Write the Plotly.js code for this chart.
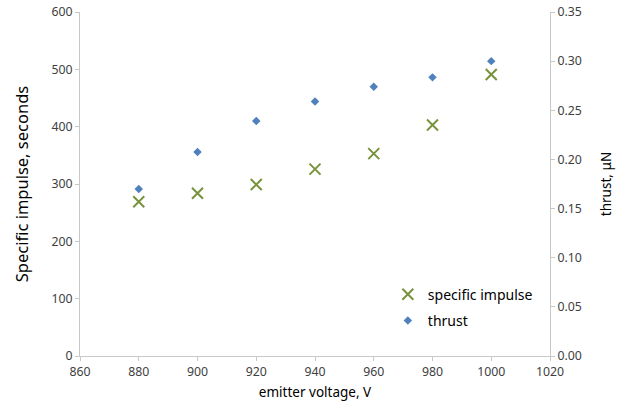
<!DOCTYPE html>
<html><head><meta charset="utf-8">
<script src="https://cdn.plot.ly/plotly-3.0.1.min.js"></script>
<style>body{margin:0;background:#fff}#c{width:619px;height:404px}</style>
</head><body><div id="c"></div>
<script>
const voltage = [880, 900, 920, 940, 960, 980, 1000];
const specificImpulse = [269, 284, 299, 326, 353, 403, 491];
const thrust = [0.170, 0.2075, 0.239, 0.259, 0.274, 0.2835, 0.300];
const xTicks = [860, 880, 900, 920, 940, 960, 980, 1000, 1020];

const fam = 'Noto Sans, sans-serif';
const font = {family: fam, size: 12.3, color: '#404040'};
const axisBase = {showgrid: false, zeroline: false, showline: true, linecolor: '#c8c8c8', linewidth: 1,
  ticks: 'outside', ticklen: 4, tickcolor: '#c8c8c8', tickfont: font};

const traces = [
  {x: voltage, y: specificImpulse, name: 'specific impulse', type: 'scatter', mode: 'markers', legendgroup: 'a',
   marker: {symbol: 'x-thin-open', size: 11, color: '#77933C', line: {color: '#77933C', width: 2}}},
  {x: voltage, y: thrust, name: 'thrust', type: 'scatter', mode: 'markers', yaxis: 'y2', legendgroup: 'b',
   marker: {symbol: 'diamond', size: 6.5, color: '#4F81BD'}}
];

const layout = {
  width: 619, height: 404,
  margin: {l: 80, r: 69, t: 12, b: 48},
  paper_bgcolor: '#fff', plot_bgcolor: '#fff',
  showlegend: true,
  legend: {x: 0.655, y: 0.225, xanchor: 'left', yanchor: 'top', font: {family: fam, size: 14, color: '#000'},
    bgcolor: 'rgba(0,0,0,0)', itemwidth: 30, tracegroupgap: 5},
  xaxis: Object.assign({}, axisBase, {range: [860, 1020], tickvals: xTicks,
    title: {text: 'emitter voltage, V', font: {family: fam, size: 13.5, color: '#000'}, standoff: 8}}),
  yaxis: Object.assign({}, axisBase, {range: [0, 600], dtick: 100,
    title: {text: 'Specific impulse, seconds', font: {family: fam, size: 16.5, color: '#000'}, standoff: 18}}),
  yaxis2: Object.assign({}, axisBase, {range: [0, 0.35], dtick: 0.05, tickformat: '.2f', overlaying: 'y', side: 'right',
    title: {text: 'thrust, μN', font: {family: fam, size: 13.5, color: '#000'}, standoff: 20}})
};
Plotly.newPlot('c', traces, layout, {staticPlot: true, displayModeBar: false});
</script></body></html>
